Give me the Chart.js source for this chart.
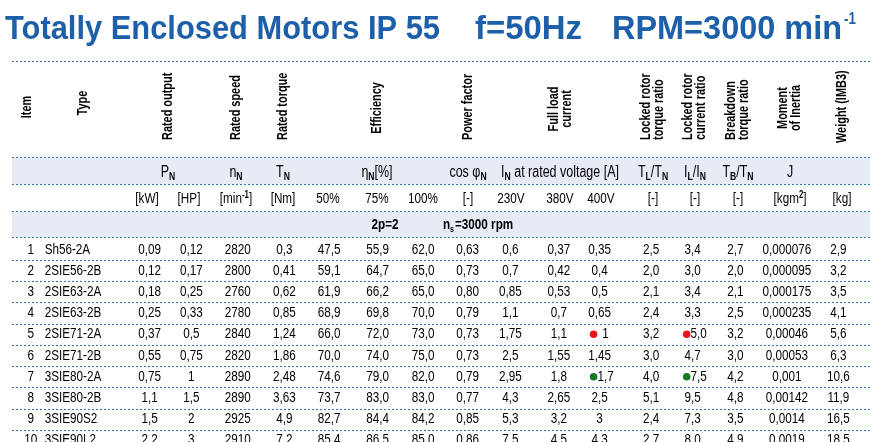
<!DOCTYPE html>
<html>
<head>
<meta charset="utf-8">
<script src="https://cdn.jsdelivr.net/npm/chart.js@4.4.0/dist/chart.umd.min.js"></script>
<style>
  html, body { margin: 0; padding: 0; background: #fff; }
  canvas { display: block; }
</style>
</head>
<body>
<canvas id="c" width="878" height="442"></canvas>
<script>
// Motor data table, 2p=2, ns=3000 rpm
const items   = ['1', '2', '3', '4', '5', '6', '7', '8', '9', '10'];
const types   = ['Sh56-2A', '2SIE56-2B', '2SIE63-2A', '2SIE63-2B', '2SIE71-2A', '2SIE71-2B', '3SIE80-2A', '3SIE80-2B', '3SIE90S2', '3SIE90L2'];
const kW      = ['0,09', '0,12', '0,18', '0,25', '0,37', '0,55', '0,75', '1,1', '1,5', '2,2'];
const HP      = ['0,12', '0,17', '0,25', '0,33', '0,5', '0,75', '1', '1,5', '2', '3'];
const rpm     = ['2820', '2800', '2760', '2780', '2840', '2820', '2890', '2890', '2925', '2910'];
const torque  = ['0,3', '0,41', '0,62', '0,85', '1,24', '1,86', '2,48', '3,63', '4,9', '7,2'];
const eff50   = ['47,5', '59,1', '61,9', '68,9', '66,0', '70,0', '74,6', '73,7', '82,7', '85,4'];
const eff75   = ['55,9', '64,7', '66,2', '69,8', '72,0', '74,0', '79,0', '83,0', '84,4', '86,5'];
const eff100  = ['62,0', '65,0', '65,0', '70,0', '73,0', '75,0', '82,0', '83,0', '84,2', '85,0'];
const cosPhi  = ['0,63', '0,73', '0,80', '0,79', '0,73', '0,73', '0,79', '0,77', '0,85', '0,86'];
const i230    = ['0,6', '0,7', '0,85', '1,1', '1,75', '2,5', '2,95', '4,3', '5,3', '7,5'];
const i380    = ['0,37', '0,42', '0,53', '0,7', '1,1', '1,55', '1,8', '2,65', '3,2', '4,5'];
const i400    = ['0,35', '0,4', '0,5', '0,65', '1', '1,45', '1,7', '2,5', '3', '4,3'];
const tlRatio = ['2,5', '2,0', '2,1', '2,4', '3,2', '3,0', '4,0', '5,1', '2,4', '2,7'];
const ilRatio = ['3,4', '3,0', '3,4', '3,3', '5,0', '4,7', '7,5', '9,5', '7,3', '8,0'];
const tbRatio = ['2,7', '2,0', '2,1', '2,5', '3,2', '3,0', '4,2', '4,8', '3,5', '4,9'];
const inertia = ['0,000076', '0,000095', '0,000175', '0,000235', '0,00046', '0,00053', '0,001', '0,00142', '0,0014', '0,0019'];
const weight  = ['2,9', '3,2', '3,5', '4,1', '5,6', '6,3', '10,6', '11,9', '16,5', '18,5'];

const units = ['', '', '[kW]', '[HP]', '[min-1]', '[Nm]', '50%', '75%', '100%', '[-]', '230V', '380V', '400V', '[-]', '[-]', '[-]', '[kgm2]', '[kg]'];

// marked cells: column index, row index
const redMarks   = [{ col: 12, row: 4 }, { col: 14, row: 4 }];
const greenMarks = [{ col: 12, row: 6 }, { col: 14, row: 6 }];

// layout
const colX = [27, 41, 147, 189, 236, 283, 328, 377, 423, 468, 511, 560, 601, 653, 695, 738, 790, 842];
const rowY0 = 250, rowH = 21.6;
const BLUE = '#1d5fa8';
const LINE = '#3573b6';
const SHADE = '#e7ebf5';
const FONT = '"Liberation Sans", Arial, sans-serif';
const K = 0.78; // horizontal squeeze, stands in for a condensed face

const columns = [items, types, kW, HP, rpm, torque, eff50, eff75, eff100, cosPhi, i230, i380, i400, tlRatio, ilRatio, tbRatio, inertia, weight];

function dotted(ctx, y) {
  ctx.save();
  ctx.strokeStyle = LINE;
  ctx.lineWidth = 1;
  ctx.setLineDash([2, 2]);
  ctx.beginPath();
  ctx.moveTo(12, y + 0.5);
  ctx.lineTo(870, y + 0.5);
  ctx.stroke();
  ctx.restore();
}

function narrow(ctx, t, x, y, align) {
  ctx.save();
  ctx.translate(x, y);
  ctx.scale(K, 1);
  ctx.textAlign = align || 'center';
  ctx.fillText(t, 0, 0);
  ctx.restore();
}

// base text + sub/superscripts, centred at x
function subText(ctx, x, y, parts, size) {
  const fontOf = p => (p.sub || p.sup ? 'bold ' + (size - 5) : size) + 'px ' + FONT;
  let w = 0;
  parts.forEach(p => { ctx.font = fontOf(p); w += ctx.measureText(p.t).width * K; });
  let cx = x - w / 2;
  parts.forEach(p => {
    ctx.font = fontOf(p);
    narrow(ctx, p.t, cx, p.sub ? y + 3 : (p.sup ? y - 5 : y), 'left');
    cx += ctx.measureText(p.t).width * K;
  });
}

// rotated headers: [lines, x, y, anchor]
const headers = [
  [['Item'], 27, 107, 'c'], [['Type'], 83, 103, 'c'],
  [['Rated output'], 168, 140, 'b'], [['Rated speed'], 236, 140, 'b'], [['Rated torque'], 283, 140, 'b'],
  [['Efficiency'], 377, 108, 'c'], [['Power factor'], 468, 140, 'b'],
  [['Full load', 'current'], 561, 109, 'c'],
  [['Locked rotor', 'torque ratio'], 653, 140, 'b'], [['Locked rotor', 'current ratio'], 695, 140, 'b'],
  [['Breakdown', 'torque ratio'], 738, 140, 'b'], [['Moment', 'of Inertia'], 790, 108, 'c'],
  [['Weight (IMB3)'], 842, 143, 'b']
];

const tablePlugin = {
  id: 'table',
  beforeDatasetsDraw(chart) {
    const ctx = chart.ctx;
    const xs = chart.scales.x, ys = chart.scales.y;
    ctx.save();
    // title
    ctx.fillStyle = BLUE;
    ctx.textBaseline = 'alphabetic';
    ctx.textAlign = 'left';
    const titleParts = [['Totally Enclosed Motors IP 55', 5, 440], ['f=50Hz', 475, 582], ['RPM=3000 min', 612, 842]];
    titleParts.forEach(([t, x0, x1]) => {
      ctx.font = 'bold 34px ' + FONT;
      const w = ctx.measureText(t).width;
      ctx.save();
      ctx.translate(x0, 39);
      ctx.scale((x1 - x0) / w, 1);
      ctx.fillText(t, 0, 0);
      ctx.restore();
    });
    ctx.font = 'bold 17px ' + FONT;
    narrow(ctx, '-1', 844, 24, 'left');

    // shaded bands
    ctx.fillStyle = SHADE;
    ctx.fillRect(12, 157, 858, 27);
    ctx.fillRect(12, 212, 858, 25);

    [61, 157, 184, 211, 237].forEach(y => dotted(ctx, y));
    for (let r = 0; r < items.length; r++) dotted(ctx, Math.round(ys.getPixelForValue(rowY0 + rowH * r + rowH / 2)));

    // rotated headers
    ctx.fillStyle = '#000';
    ctx.font = 'bold 14px ' + FONT;
    headers.forEach(([lines, x, y, anchor]) => {
      ctx.save();
      ctx.translate(x, y);
      ctx.rotate(-Math.PI / 2);
      ctx.scale(K, 1);
      ctx.textAlign = anchor === 'b' ? 'left' : 'center';
      ctx.textBaseline = 'middle';
      const n = lines.length;
      lines.forEach((l, i) => ctx.fillText(l, 0, (i - (n - 1) / 2) * 13));
      ctx.restore();
    });

    // symbol row
    ctx.textBaseline = 'alphabetic';
    const sy = 177, sz = 16;
    subText(ctx, 168, sy, [{ t: 'P' }, { t: 'N', sub: 1 }], sz);
    subText(ctx, 236, sy, [{ t: 'n' }, { t: 'N', sub: 1 }], sz);
    subText(ctx, 283, sy, [{ t: 'T' }, { t: 'N', sub: 1 }], sz);
    subText(ctx, 377, sy, [{ t: 'η' }, { t: 'N', sub: 1 }, { t: '[%]' }], sz);
    subText(ctx, 468, sy, [{ t: 'cos φ' }, { t: 'N', sub: 1 }], sz);
    subText(ctx, 560, sy, [{ t: 'I' }, { t: 'N', sub: 1 }, { t: ' at rated voltage [A]' }], sz);
    subText(ctx, 653, sy, [{ t: 'T' }, { t: 'L', sub: 1 }, { t: '/T' }, { t: 'N', sub: 1 }], sz);
    subText(ctx, 695, sy, [{ t: 'I' }, { t: 'L', sub: 1 }, { t: '/I' }, { t: 'N', sub: 1 }], sz);
    subText(ctx, 738, sy, [{ t: 'T' }, { t: 'B', sub: 1 }, { t: '/T' }, { t: 'N', sub: 1 }], sz);
    subText(ctx, 790, sy, [{ t: 'J' }], sz);

    // units row
    const uy = 203;
    units.forEach((u, i) => {
      if (!u) return;
      if (u === '[min-1]') subText(ctx, colX[i], uy, [{ t: '[min' }, { t: '-1', sup: 1 }, { t: ']' }], 15);
      else if (u === '[kgm2]') subText(ctx, colX[i], uy, [{ t: '[kgm' }, { t: '2', sup: 1 }, { t: ']' }], 15);
      else subText(ctx, colX[i], uy, [{ t: u }], 15);
    });

    // section row
    ctx.font = 'bold 15px ' + FONT;
    narrow(ctx, '2p=2', 385, 229, 'center');
    narrow(ctx, 'n', 443, 229, 'left');
    ctx.font = 'bold 9px ' + FONT;
    narrow(ctx, 's', 450, 232, 'left');
    ctx.font = 'bold 15px ' + FONT;
    narrow(ctx, '=3000 rpm', 455, 229, 'left');

    // body cells
    ctx.font = '15px ' + FONT;
    ctx.textBaseline = 'middle';
    const marked = redMarks.concat(greenMarks);
    columns.forEach((col, c) => {
      col.forEach((v, r) => {
        const y = ys.getPixelForValue(rowY0 + rowH * r);
        let x = xs.getPixelForValue(colX[c]);
        if (marked.some(m => m.col === c && m.row === r)) x += 6;
        narrow(ctx, v, x, y, c === 1 ? 'left' : 'center');
      });
    });
    ctx.restore();
  }
};

function markPoints(marks) {
  return marks.map(m => ({ x: colX[m.col] - 6, y: rowY0 + rowH * m.row }));
}

new Chart(document.getElementById('c'), {
  type: 'scatter',
  data: {
    datasets: [
      { data: markPoints(redMarks), pointRadius: 3.8, backgroundColor: '#e8131b', borderWidth: 0 },
      { data: markPoints(greenMarks), pointRadius: 3.8, backgroundColor: '#157a25', borderWidth: 0 }
    ]
  },
  options: {
    responsive: false, animation: false,
    layout: { padding: 0 },
    plugins: { legend: { display: false }, tooltip: { enabled: false } },
    scales: {
      x: { type: 'linear', min: 0, max: 878, display: false },
      y: { type: 'linear', min: 0, max: 442, reverse: true, display: false }
    }
  },
  plugins: [tablePlugin]
});
</script>
</body>
</html>
